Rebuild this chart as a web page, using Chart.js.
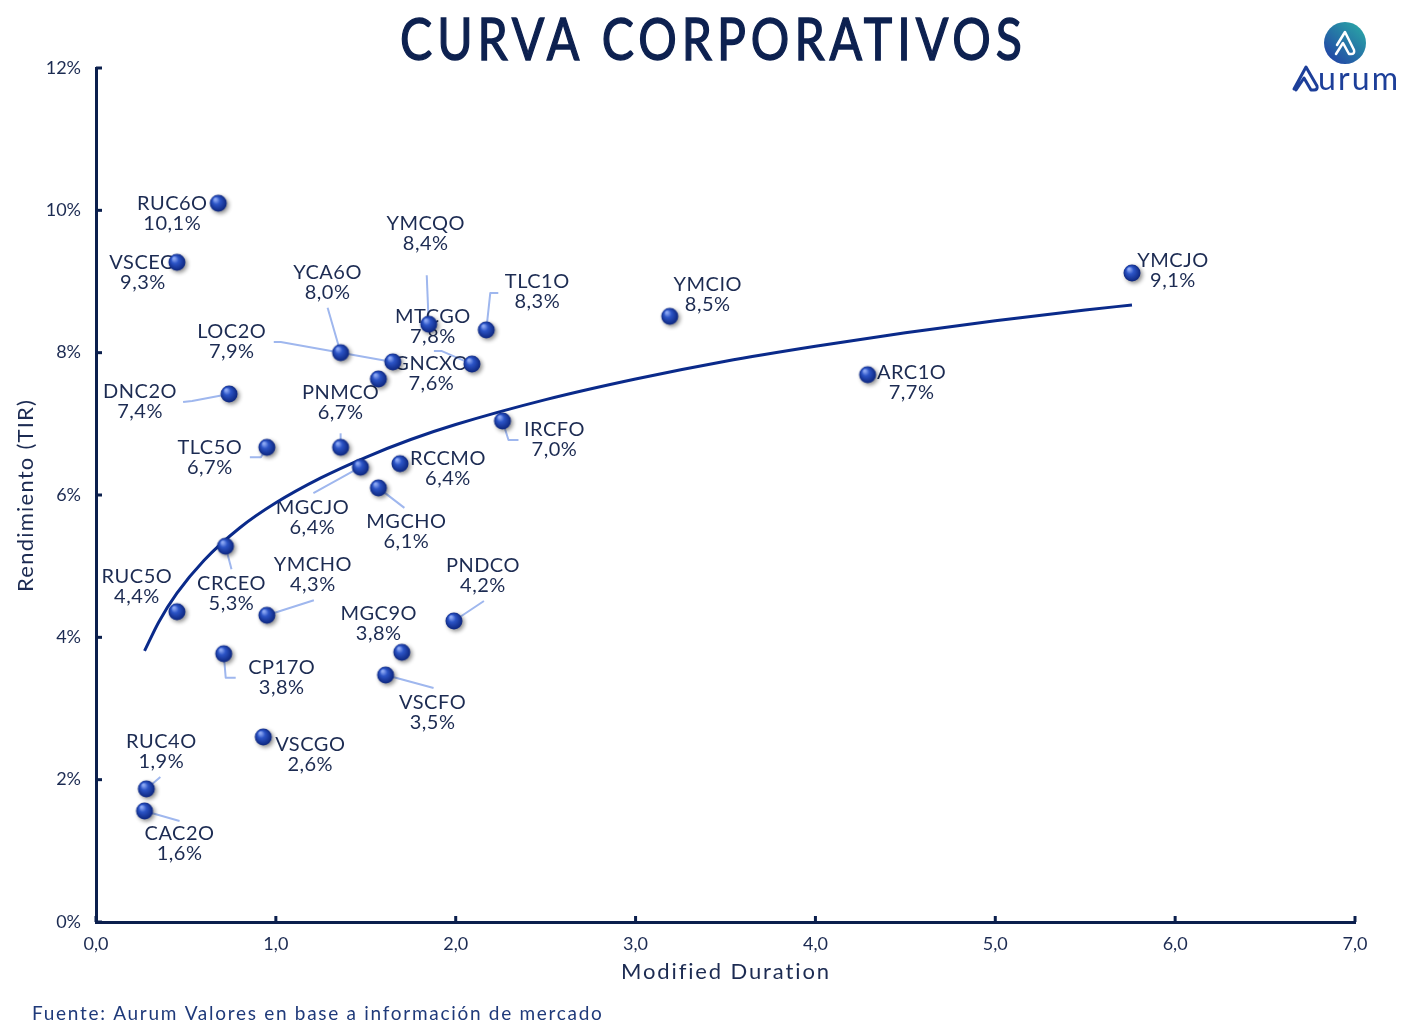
<!DOCTYPE html>
<html>
<head>
<title>Curva Corporativos</title>
<script src="https://cdn.jsdelivr.net/npm/chart.js"></script>
<style>
  body { margin: 0; background: #fff; }
  canvas { display: block; }
</style>
</head>
<body>
<canvas id="chart" width="1422" height="1033"></canvas>
<script>
// --- data ---
var bonds = ['RUC6O','VSCEO','YCA6O','LOC2O','GNCXO','MTCGO','YMCQO','TLC1O','YMCIO','YMCJO',
             'ARC1O','IRCFO','DNC2O','PNMCO','TLC5O','MGCJO','RCCMO','MGCHO','CRCEO','RUC5O',
             'YMCHO','PNDCO','MGC9O','CP17O','VSCFO','VSCGO','RUC4O','CAC2O'];
var duration = [0.68, 0.45, 1.36, 1.65, 1.57, 2.09, 1.85, 2.17, 3.19, 5.76,
                4.29, 2.26, 0.74, 1.36, 0.95, 1.47, 1.69, 1.57, 0.72, 0.45,
                0.95, 1.99, 1.70, 0.71, 1.61, 0.93, 0.28, 0.27];
var yieldPct = [10.10, 9.27, 8.00, 7.87, 7.63, 7.84, 8.40, 8.32, 8.51, 9.12,
                7.69, 7.04, 7.42, 6.67, 6.67, 6.39, 6.44, 6.10, 5.28, 4.36,
                4.31, 4.23, 3.79, 3.77, 3.47, 2.60, 1.87, 1.56];

// trend curve, read at a few durations
var curveX = [0.27, 0.35, 0.45, 0.6, 0.8, 1.0, 1.25, 1.5, 1.75, 2.0, 2.5, 3.0, 3.5, 4.0, 4.5, 5.0, 5.5, 5.76];
var curveY = [3.81, 4.22, 4.62, 5.08, 5.54, 5.89, 6.24, 6.53, 6.78, 6.99, 7.34, 7.63, 7.88, 8.09, 8.28, 8.45, 8.60, 8.67];

var yTicks = [0, 2, 4, 6, 8, 10, 12];
var xTicks = [0, 1, 2, 3, 4, 5, 6, 7];

// label placement (pixel offsets from the point) and leader lines
var labelPos = [
  [-46, 0, []], [-34, 0, []], [-13, -80, [[-13, -45]]], [-161, -30, [[-112, -20], [-119, -20]]],
  [53, -15, []], [-39, -48, [[-30, -13], [-38, -13]]], [-3, -101, [[-2, -49]]], [51, -48, [[4, -37], [12, -37]]],
  [38, -32, []], [41, -12, []], [44, -2, []], [52, 9, [[6, 19], [16, 19]]],
  [-89, -2, [[-37, 7], [-46, 8]]], [0, -55, [[0, -14]]], [-57, 0, [[-6, 10], [-17, 10]]], [-48, 40, [[-47, 26]]],
  [48, -5, []], [28, 34, [[26, 20]]], [6, 37, [[6, 23]]], [-40, -35, []],
  [46, -51, [[47, -15]]], [29, -55, [[30, -20]]], [-23, -39, []], [58, 14, [[2, 24], [12, 24]]],
  [47, 27, [[48, 13]]], [47, 8, []], [15, -47, [[14, -12]]], [35, 23, [[35, 10]]]
];

var NAVY = '#0b1f4d';
var TEXT = '#1c2b52';
var FONT = 'Lato';

function pct(v) { return v.toFixed(1).replace('.', ',') + '%'; }

// shaded sphere used as the point style
function makeBall() {
  var c = document.createElement('canvas');
  c.width = 32; c.height = 32;
  var g = c.getContext('2d');
  g.shadowColor = 'rgba(0,0,0,0.45)';
  g.shadowBlur = 4; g.shadowOffsetX = 2; g.shadowOffsetY = 2;
  var grd = g.createRadialGradient(13, 12, 1, 16, 16, 9);
  grd.addColorStop(0, '#8aa6f2');
  grd.addColorStop(0.35, '#2c54c6');
  grd.addColorStop(1, '#0a2278');
  g.fillStyle = grd;
  g.beginPath(); g.arc(16, 16, 8.5, 0, Math.PI * 2); g.fill();
  return c;
}

function fitText(ctx, txt, x, y, width) {
  ctx.letterSpacing = '0px';
  var w = ctx.measureText(txt).width;
  var ls = (width - w) / Math.max(txt.length - 1, 1);
  ctx.letterSpacing = ls.toFixed(2) + 'px';
  ctx.fillText(txt, x + (ctx.textAlign === 'center' ? ls / 2 : 0), y);
  ctx.letterSpacing = '0px';
}

var points = duration.map(function(d, i) { return { x: d, y: yieldPct[i] }; });
var curve = curveX.map(function(d, i) { return { x: d, y: curveY[i] }; });

var labelsPlugin = {
  id: 'bondLabels',
  beforeDatasetsDraw: function(chart) {
    var ctx = chart.ctx, xs = chart.scales.x, ys = chart.scales.y;
    ctx.save();
    ctx.strokeStyle = '#9fb7ee';
    ctx.lineWidth = 2;
    ctx.lineJoin = 'round';
    bonds.forEach(function(b, i) {
      var px = xs.getPixelForValue(duration[i]), py = ys.getPixelForValue(yieldPct[i]);
      var lead = labelPos[i][2];
      if (lead.length) {
        ctx.beginPath();
        ctx.moveTo(px, py);
        lead.forEach(function(p) { ctx.lineTo(px + p[0], py + p[1]); });
        ctx.stroke();
      }
    });
    ctx.fillStyle = TEXT;
    ctx.font = '20px ' + FONT;
    ctx.letterSpacing = '0.5px';
    ctx.textAlign = 'center';
    ctx.textBaseline = 'middle';
    bonds.forEach(function(b, i) {
      var px = xs.getPixelForValue(duration[i]), py = ys.getPixelForValue(yieldPct[i]);
      var lx = px + labelPos[i][0], ly = py + labelPos[i][1];
      ctx.fillText(b, lx, ly);
      ctx.fillText(pct(yieldPct[i]), lx, ly + 20);
    });
    ctx.letterSpacing = '0px';
    ctx.restore();
  },
  afterDraw: function(chart) {
    var ctx = chart.ctx, xs = chart.scales.x, ys = chart.scales.y, a = chart.chartArea;
    ctx.save();
    // inner tick marks
    ctx.strokeStyle = NAVY;
    ctx.lineWidth = 3;
    yTicks.forEach(function(t) {
      var y = ys.getPixelForValue(t);
      ctx.beginPath(); ctx.moveTo(a.left, y); ctx.lineTo(a.left + 6, y); ctx.stroke();
    });
    xTicks.forEach(function(t) {
      var x = xs.getPixelForValue(t);
      ctx.beginPath(); ctx.moveTo(x, a.bottom); ctx.lineTo(x, a.bottom - 6); ctx.stroke();
    });

    // title: narrowed glyphs with open tracking
    var title = 'CURVA CORPORATIVOS';
    ctx.save();
    ctx.fillStyle = '#0d2150';
    ctx.strokeStyle = '#0d2150';
    ctx.lineWidth = 1.4;
    ctx.textAlign = 'left';
    ctx.textBaseline = 'middle';
    ctx.font = '400 58px ' + FONT;
    var track = 5;
    var natural = ctx.measureText(title).width;
    var sx = (622 - track * (title.length - 1)) / natural;
    ctx.translate(400, 41);
    ctx.scale(sx, 1);
    ctx.letterSpacing = (track / sx).toFixed(2) + 'px';
    ctx.fillText(title, 0, 0);
    ctx.strokeText(title, 0, 0);
    ctx.restore();

    // axis titles
    ctx.fillStyle = TEXT;
    ctx.textAlign = 'center';
    ctx.textBaseline = 'middle';
    ctx.font = '22px ' + FONT;
    fitText(ctx, 'Modified Duration', 725, 972, 208);
    ctx.save();
    ctx.translate(26, 496);
    ctx.rotate(-Math.PI / 2);
    fitText(ctx, 'Rendimiento (TIR)', 0, 0, 192);
    ctx.restore();

    // source note
    ctx.textAlign = 'left';
    ctx.font = '19px ' + FONT;
    ctx.fillStyle = '#1f3a7a';
    fitText(ctx, 'Fuente: Aurum Valores en base a información de mercado', 32, 1014, 570);

    // logo
    var grd = ctx.createLinearGradient(1330, 60, 1362, 24);
    grd.addColorStop(0, '#2247a6');
    grd.addColorStop(1, '#2aa7a6');
    ctx.fillStyle = grd;
    ctx.beginPath(); ctx.arc(1345, 43, 21, 0, Math.PI * 2); ctx.fill();
    ctx.strokeStyle = '#fff';
    ctx.lineWidth = 2.5;
    ctx.lineJoin = 'round'; ctx.lineCap = 'round';
    ctx.beginPath();
    ctx.moveTo(1337, 45); ctx.lineTo(1345, 32); ctx.lineTo(1354, 50);
    ctx.quadraticCurveTo(1355, 54, 1351, 54); ctx.lineTo(1349, 54); ctx.lineTo(1343, 43);
    ctx.lineTo(1336, 54);
    ctx.stroke();

    ctx.strokeStyle = '#1d3f99';
    ctx.lineWidth = 3;
    ctx.beginPath();
    ctx.moveTo(1294, 89); ctx.lineTo(1306, 67); ctx.lineTo(1317, 86);
    ctx.quadraticCurveTo(1318, 90, 1314, 90); ctx.lineTo(1311, 90); ctx.lineTo(1304, 78);
    ctx.lineTo(1296, 90);
    ctx.stroke();
    ctx.fillStyle = '#1d3f99';
    ctx.font = '32px ' + FONT;
    ctx.textAlign = 'left';
    ctx.textBaseline = 'alphabetic';
    fitText(ctx, 'urum', 1318, 90, 80);
    ctx.restore();
  }
};

var ctx = document.getElementById('chart').getContext('2d');
new Chart(ctx, {
  type: 'scatter',
  data: {
    datasets: [
      {
        label: 'Bonos',
        data: points,
        pointStyle: makeBall(),
        pointRadius: 9,
        order: 0
      },
      {
        label: 'Tendencia',
        data: curve,
        showLine: true,
        borderColor: '#0a2a8a',
        borderWidth: 3,
        pointRadius: 0,
        cubicInterpolationMode: 'monotone',
        order: 1
      }
    ]
  },
  options: {
    responsive: false,
    animation: false,
    layout: { padding: { top: 68, right: 67, left: 0, bottom: 0 } },
    plugins: {
      legend: { display: false },
      tooltip: { enabled: false }
    },
    scales: {
      x: {
        type: 'linear',
        min: 0, max: 7,
        afterFit: function(s) { s.height = 111; },
        afterBuildTicks: function(s) { s.ticks = xTicks.map(function(v) { return { value: v }; }); },
        grid: { drawOnChartArea: false, drawTicks: false },
        border: { color: NAVY, width: 3 },
        ticks: {
          color: TEXT, padding: 11,
          font: { family: FONT, size: 18 },
          callback: function(v) { return v.toFixed(1).replace('.', ','); }
        }
      },
      y: {
        min: 0, max: 12,
        afterFit: function(s) { s.width = 96; },
        afterBuildTicks: function(s) { s.ticks = yTicks.map(function(v) { return { value: v }; }); },
        grid: { drawOnChartArea: false, drawTicks: false },
        border: { color: NAVY, width: 3 },
        ticks: {
          color: TEXT, padding: 15,
          font: { family: FONT, size: 18 },
          callback: function(v) { return v + '%'; }
        }
      }
    }
  },
  plugins: [labelsPlugin]
});
</script>
</body>
</html>
